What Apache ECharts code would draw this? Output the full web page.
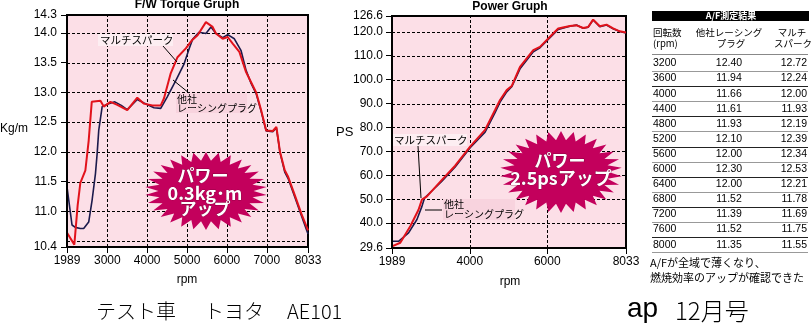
<!DOCTYPE html>
<html><head><meta charset="utf-8">
<script src="https://cdn.jsdelivr.net/npm/echarts@6/dist/echarts.min.js"></script>
<style>html,body{margin:0;padding:0;background:#fff}#c{width:811px;height:329px}</style>
</head><body><div id="c"></div>
<script>
// ---------- Torque chart data ----------
const torqueRpmMulti = [1989,2173,2256,2324,2450,2533,2610,2660,2828,2911,3080,3250,3500,3752,3919,4130,4340,4422,4590,4760,4969,5130,5264,5473,5641,5724,5893,6019,6145,6312,6480,6606,6732,6858,6984,7150,7240,7290,7330,7450,7535,7697,7866,8033];
const torqueMulti    = [10.64,10.44,11.10,11.48,11.69,12.19,12.84,12.87,12.86,12.76,12.84,12.79,12.70,12.91,12.81,12.78,12.78,12.90,13.32,13.59,13.74,13.88,13.96,14.18,14.10,13.99,13.90,13.93,13.82,13.68,13.34,13.17,13.00,12.70,12.36,12.35,12.42,12.19,12.00,11.69,11.58,11.28,10.96,10.68];
const torqueRpmOther = [1989,2115,2198,2324,2407,2533,2619,2702,2745,2785,2871,2997,3188,3350,3500,3752,3919,4170,4340,4500,4720,4926,5050,5138,5300,5473,5600,5724,5893,6019,6186,6355,6480,6606,6732,6858,6984,7150,7240,7290,7330,7450,7535,7697,7866,8033];
const torqueOther    = [11.41,10.77,10.73,10.71,10.71,10.82,11.19,11.63,11.97,12.36,12.76,12.80,12.84,12.78,12.71,12.88,12.82,12.74,12.73,12.92,13.20,13.48,13.73,13.89,14.01,13.99,14.10,13.99,13.92,13.97,13.90,13.70,13.37,13.15,12.98,12.68,12.35,12.34,12.40,12.18,11.99,11.66,11.55,11.25,10.93,10.62];
const torqueXTicks = [1989,3000,4000,5000,6000,7000,8033];
const torqueYTicks = [10.4,11.0,11.5,12.0,12.5,13.0,13.5,14.0,14.3];
const torqueXGrid  = [3000,4000,5000,6000,7000,8000];
const torqueYGrid  = [10.5,11.0,11.5,12.0,12.5,13.0,13.5,14.0];

// ---------- Power chart data ----------
const powerRpmMulti = [1989,2203,2461,2674,2762,2891,3278,3620,4007,4393,4651,4780,4952,5081,5295,5638,5811,6153,6282,6584,6756,6927,7055,7184,7357,7530,7700,7873,8033];
const powerMulti    = [30.3,31.8,38.7,45.6,49.8,51.2,58.1,64.0,72.0,79.0,87.3,91.5,95.6,97.3,105.3,112.3,113.7,119.3,121.4,122.4,122.7,121.6,122.0,125.1,122.3,123.0,121.4,120.2,119.7];
const powerRpmOther = [1989,2159,2417,2633,2762,2829,3278,3620,4007,4393,4651,4780,4952,5081,5295,5638,5811,6153,6282,6584,6756,6927,7055,7184,7357,7530,7700,7873,8033];
const powerOther    = [32.4,32.4,35.9,41.5,47.0,50.5,57.5,63.5,71.5,78.0,86.2,90.6,94.9,97.0,104.5,111.6,113.3,118.9,121.0,122.3,122.8,121.5,121.9,125.0,122.1,122.8,121.3,120.1,119.5];
const powerXTicks = [1989,4000,6000,8033];
const powerYTicks = [29.6,40,50,60,70,80,90,100,110,120,126.6];
const powerXGrid  = [4000,6000,8000];
const powerYGrid  = [40,50,60,70,80,90,100,110,120];

// ---------- A/F table ----------
const tableTitle = 'A/F測定結果';
const tableRpm   = ['3200','3600','4000','4400','4800','5200','5600','6000','6400','6800','7200','7600','8000'];
const tableOther = ['12.40','11.94','11.66','11.61','11.93','12.10','12.00','12.30','12.00','11.52','11.39','11.52','11.35'];
const tableMulti = ['12.72','12.24','12.00','11.93','12.19','12.39','12.34','12.53','12.21','11.78','11.69','11.75','11.55'];

// ---------- texts ----------
const nameMulti = 'マルチスパーク';
const nameOther = ['他社', 'レーシングプラグ'];
const burstTorque = ['パワー', '0.3kg･m', 'アップ'];
const burstPower = ['パワー', '2.5psアップ'];

const RED = '#e2121b', NAVY = '#1b1a4c', PINK = '#fcdfe7', MAG = '#c3005c';
const LAT = 'Liberation Sans, Arial, sans-serif';
const JP = '"Noto Sans CJK JP", sans-serif';

function zip(a, b) { return a.map((v, i) => [v, b[i]]); }

function xAxisDef(gi, ticks) {
  return {
    gridIndex: gi, type: 'value', min: 1989, max: 8033, z: 70,
    axisLine: { show: true, onZero: false, lineStyle: { color: '#000', width: 2 } },
    axisTick: { show: true, customValues: ticks, length: 6, lineStyle: { color: '#000', width: 1 } },
    axisLabel: { customValues: ticks, margin: 8, fontSize: 12, color: '#000', fontFamily: LAT, formatter: v => String(Math.round(v)) },
    splitLine: { show: false }
  };
}
function yAxisDef(gi, min, max, ticks, margin) {
  return {
    gridIndex: gi, type: 'value', min: min, max: max, z: 70,
    axisLine: { show: true, onZero: false, lineStyle: { color: '#000', width: 2 } },
    axisTick: { show: true, customValues: ticks, length: 6, lineStyle: { color: '#000', width: 1 } },
    axisLabel: { customValues: ticks, margin: margin, fontSize: 12, color: '#000', fontFamily: LAT, formatter: v => Number(v).toFixed(1) },
    splitLine: { show: false }
  };
}
function curve(xi, data, color, width, z) {
  return { type: 'line', xAxisIndex: xi, yAxisIndex: xi, data: data, showSymbol: false, symbol: 'none',
    lineStyle: { color: color, width: width }, z: z, silent: true, animation: false };
}
function star(cx, cy, rx, ry, n, inner) {
  const pts = [];
  for (let i = 0; i < 2 * n; i++) {
    const a = i * Math.PI / n - Math.PI / 2;
    const r = i % 2 === 0 ? 1 : inner;
    pts.push([cx + rx * r * Math.cos(a), cy + ry * r * Math.sin(a)]);
  }
  return pts;
}
function txt(text, x, y, font, fill, align, valign, extra) {
  return Object.assign({ type: 'text', z: 100, silent: true,
    style: Object.assign({ text: text, x: x, y: y, font: font, fill: fill, textAlign: align || 'left', textVerticalAlign: valign || 'middle' }, extra || {}) });
}
function line(x1, y1, x2, y2, stroke, w, z) {
  return { type: 'line', z: z || 100, silent: true, shape: { x1: x1, y1: y1, x2: x2, y2: y2 }, style: { stroke: stroke || '#000', lineWidth: w || 1 } };
}
function rect(x, y, w, h, fill, z) {
  return { type: 'rect', z: z || 99, silent: true, shape: { x: x, y: y, width: w, height: h }, style: { fill: fill } };
}

const chart = echarts.init(document.getElementById('c'));
chart.setOption({
  animation: false,
  backgroundColor: '#fff',
  grid: [
    { z: 0, left: 67, top: 15, width: 241, height: 232, show: true, backgroundColor: PINK, borderColor: '#000', borderWidth: 2 },
    { z: 0, left: 392, top: 16, width: 234, height: 232, show: true, backgroundColor: PINK, borderColor: '#000', borderWidth: 2 }
  ],
  xAxis: [xAxisDef(0, torqueXTicks), xAxisDef(1, powerXTicks)],
  yAxis: [yAxisDef(0, 10.4, 14.3, torqueYTicks, 10), yAxisDef(1, 29.6, 126.6, powerYTicks, 9)],
  series: [
    curve(0, zip(torqueRpmOther, torqueOther), NAVY, 1.6, 60),
    curve(0, zip(torqueRpmMulti, torqueMulti), RED, 2, 61),
    curve(1, zip(powerRpmOther, powerOther), NAVY, 1.6, 60),
    curve(1, zip(powerRpmMulti, powerMulti), RED, 2, 61)
  ]
});

const graphics = [];
// dashed grid lines drawn as short solid segments, positioned through the chart's own scales
function dashed(x1, y1, x2, y2, on, off) {
  const len = Math.hypot(x2 - x1, y2 - y1), dx = (x2 - x1) / len, dy = (y2 - y1) / len;
  for (let s = 0; s < len; s += on + off) {
    const e = Math.min(s + on, len);
    graphics.push(line(x1 + dx * s, y1 + dy * s, x1 + dx * e, y1 + dy * e, '#000', 1, 50));
  }
}
function addGrid(gi, xs, ys, xmin, xmax, ymin, ymax) {
  const finder = { xAxisIndex: gi, yAxisIndex: gi };
  xs.forEach(v => {
    const a = chart.convertToPixel(finder, [v, ymin]);
    const b = chart.convertToPixel(finder, [v, ymax]);
    const x = Math.round(a[0]) + 0.5;
    dashed(x, a[1], x, b[1], 3, 2);
  });
  ys.forEach(v => {
    const a = chart.convertToPixel(finder, [xmin, v]);
    const b = chart.convertToPixel(finder, [xmax, v]);
    const y = Math.round(a[1]) + 0.5;
    dashed(a[0], y, b[0], y, 3, 2);
  });
}
addGrid(0, torqueXGrid, torqueYGrid, 1989, 8033, 10.4, 14.3);
addGrid(1, powerXGrid, powerYGrid, 1989, 8033, 29.6, 126.6);

// titles & axis names
graphics.push(txt('F/W Torque Gruph', 187, 5, 'bold 12px ' + LAT, '#000', 'center'));
graphics.push(txt('Power Gruph', 510, 7, 'bold 12px ' + LAT, '#000', 'center'));
graphics.push(txt('Kg/m', 0, 129, '12px ' + LAT, '#000', 'left'));
graphics.push(txt('PS', 336, 132, '13px ' + LAT, '#000', 'left'));
graphics.push(txt('rpm', 187, 280, '12px ' + LAT, '#000', 'center'));
graphics.push(txt('rpm', 510, 282, '12px ' + LAT, '#000', 'center'));

// left annotations
graphics.push(rect(98, 34, 75, 12, '#fdeef2'));
graphics.push(txt(nameMulti, 100, 40, '10.5px ' + JP, '#000', 'left'));
graphics.push(line(163, 46, 177, 62));
graphics.push(rect(176, 93, 71, 20, '#f8d3de'));
graphics.push(txt(nameOther[0], 177, 99, '10px ' + JP, '#000', 'left'));
graphics.push(txt(nameOther[1], 177, 108.5, '10px ' + JP, '#000', 'left'));
graphics.push(line(173, 80, 189, 93));
// left starburst
graphics.push({ type: 'polygon', z: 90, silent: true, shape: { points: star(206, 191, 61, 39, 30, 0.78) }, style: { fill: MAG } });
graphics.push(txt(burstTorque[0], 203, 176, 'bold 17px ' + JP, '#fff', 'center', 'middle', { stroke: '#6a0030', lineWidth: 0.6 }));
graphics.push(txt(burstTorque[1], 205, 193, 'bold 18px ' + JP, '#fff', 'center', 'middle', { stroke: '#6a0030', lineWidth: 0.6 }));
graphics.push(txt(burstTorque[2], 205, 209, 'bold 17px ' + JP, '#fff', 'center', 'middle', { stroke: '#6a0030', lineWidth: 0.6 }));

// right annotations
graphics.push(rect(393, 134, 74, 12, '#fdeef2'));
graphics.push(txt(nameMulti, 394, 140, '10.5px ' + JP, '#000', 'left'));
graphics.push(line(418, 146, 421, 198));
graphics.push(rect(443, 199, 72, 21, '#f8d3de'));
graphics.push(txt(nameOther[0], 444, 204, '10px ' + JP, '#000', 'left'));
graphics.push(txt(nameOther[1], 444, 214.5, '10px ' + JP, '#000', 'left'));
graphics.push(line(425, 210, 442, 210));
// right starburst
graphics.push({ type: 'polygon', z: 90, silent: true, shape: { points: star(561, 172, 61, 41, 30, 0.78) }, style: { fill: MAG } });
graphics.push(txt(burstPower[0], 560, 161, 'bold 17px ' + JP, '#fff', 'center', 'middle', { stroke: '#6a0030', lineWidth: 0.6 }));
graphics.push(txt(burstPower[1], 561, 178, 'bold 18px ' + JP, '#fff', 'center', 'middle', { stroke: '#6a0030', lineWidth: 0.6 }));

// table
graphics.push(rect(652, 11, 157, 10, '#000'));
graphics.push(txt(tableTitle, 731, 16, 'bold 9px ' + JP, '#fff', 'center'));
graphics.push(txt('回転数', 653, 32, '9.5px ' + JP, '#000', 'left'));
graphics.push(txt('(rpm)', 653, 43, '9.5px ' + JP, '#000', 'left'));
graphics.push(txt('他社レーシング', 729, 32, '9.5px ' + JP, '#000', 'center'));
graphics.push(txt('プラグ', 731, 43, '9.5px ' + JP, '#000', 'center'));
graphics.push(txt('マルチ', 792, 32, '9.5px ' + JP, '#000', 'center'));
graphics.push(txt('スパーク', 793, 43, '9.5px ' + JP, '#000', 'center'));
graphics.push(line(652, 54.5, 808, 54.5, '#888', 1));
const rowY0 = 63.5, rowH = 15.1;
tableRpm.forEach((r, i) => {
  const y = rowY0 + i * rowH;
  graphics.push(txt(r, 653, y, '10.5px ' + LAT, '#000', 'left'));
  graphics.push(txt(tableOther[i], 729, y, '10.5px ' + LAT, '#000', 'center'));
  graphics.push(txt(tableMulti[i], 807, y, '10.5px ' + LAT, '#000', 'right'));
  graphics.push(line(652, Math.round(y + rowH / 2) + 0.5, 808, Math.round(y + rowH / 2) + 0.5, i % 2 ? '#222' : '#999', 1));
});
graphics.push(txt('A/Fが全域で薄くなり、', 650, 263, '11px ' + JP, '#000', 'left'));
graphics.push(txt('燃焼効率のアップが確認できた', 650, 278, '11px ' + JP, '#000', 'left'));

// bottom captions
graphics.push(txt('テスト車', 96, 311, '300 20px ' + JP, '#000', 'left'));
graphics.push(txt('トヨタ', 204, 311, '300 20px ' + JP, '#000', 'left'));
graphics.push(txt('AE101', 287, 311, '300 20px ' + JP, '#000', 'left'));
graphics.push(txt('ap', 627, 309, '28px ' + LAT, '#000', 'left'));
graphics.push(txt('12月号', 675, 311, '300 24px ' + JP, '#000', 'left'));

chart.setOption({ graphic: graphics });
</script></body></html>
